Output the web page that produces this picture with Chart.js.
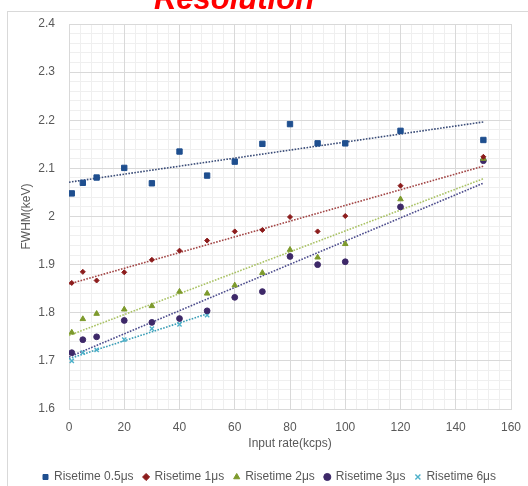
<!DOCTYPE html>
<html>
<head>
<meta charset="utf-8">
<script src="https://cdn.jsdelivr.net/npm/chart.js@4/dist/chart.umd.min.js"></script>
<style>
    html, body { margin: 0; padding: 0; background: #fff; overflow: hidden; }
    #wrap { position: relative; width: 528px; height: 486px; }
    #frame { position: absolute; left: 7px; top: 11px; width: 600px; height: 600px; border: 1px solid #d9d9d9; }
    #chart { position: absolute; left: 0; top: 0; }
</style>
</head>
<body>
<div id="wrap">
    <div id="frame"></div>
    <canvas id="chart" width="528" height="486"></canvas>
</div>
<script>
const xRates = [1, 5, 10, 20, 30, 40, 50, 60, 70, 80, 90, 100, 120, 150];
const xRates6 = [1, 5, 10, 20, 30, 40, 50];

const fwhm05 = [2.048, 2.070, 2.081, 2.101, 2.069, 2.135, 2.085, 2.114, 2.151, 2.192, 2.152, 2.152, 2.178, 2.159];
const fwhm1 = [1.862, 1.885, 1.867, 1.884, 1.910, 1.929, 1.950, 1.969, 1.972, 1.999, 1.969, 2.001, 2.064, 2.124];
const fwhm2 = [1.759, 1.787, 1.798, 1.807, 1.814, 1.844, 1.840, 1.857, 1.883, 1.931, 1.915, 1.943, 2.036, 2.120];
const fwhm3 = [1.717, 1.744, 1.750, 1.784, 1.780, 1.788, 1.804, 1.832, 1.844, 1.917, 1.900, 1.906, 2.020, 2.116];
const fwhm6 = [1.700, 1.717, 1.723, 1.744, 1.767, 1.776, 1.795];

const seriesNames = ['Risetime 0.5μs', 'Risetime 1μs', 'Risetime 2μs', 'Risetime 3μs', 'Risetime 6μs'];
const markerColors = ['#1f4f8f', '#8c1c1c', '#7d9a2c', '#3d2868', '#4cb0c9'];
const trendColors = ['#3b4d78', '#a24545', '#a9c264', '#4b4b8c', '#3a9db6'];
const markerStyles = ['rect', 'rectRot', 'triangle', 'circle', 'crossRot'];
const markerSizes = [3.8, 2.5, 3.2, 2.9, 3];

const xTicks = [0, 20, 40, 60, 80, 100, 120, 140, 160];
const yTicks = [1.6, 1.7, 1.8, 1.9, 2.0, 2.1, 2.2, 2.3, 2.4];

const seriesX = [xRates, xRates, xRates, xRates, xRates6];
const seriesY = [fwhm05, fwhm1, fwhm2, fwhm3, fwhm6];

// least squares fit, drawn from 0 to the last x like the spreadsheet trendline
function trendline(xs, ys) {
    const n = xs.length;
    const mx = xs.reduce((a, b) => a + b, 0) / n;
    const my = ys.reduce((a, b) => a + b, 0) / n;
    let sxy = 0, sxx = 0;
    for (let i = 0; i < n; i++) {
        sxy += (xs[i] - mx) * (ys[i] - my);
        sxx += (xs[i] - mx) * (xs[i] - mx);
    }
    const slope = sxy / sxx;
    const icpt = my - slope * mx;
    const xEnd = xs[n - 1];
    return [{ x: 0, y: icpt }, { x: xEnd, y: icpt + slope * xEnd }];
}

const datasets = [];
seriesNames.forEach((name, i) => {
    datasets.push({
        label: name,
        data: seriesX[i].map((x, j) => ({ x: x, y: seriesY[i][j] })),
        pointStyle: markerStyles[i],
        pointRadius: markerSizes[i],
        pointBackgroundColor: markerColors[i],
        pointBorderColor: markerColors[i],
        pointBorderWidth: markerStyles[i] === 'crossRot' ? 1.4 : 1,
        showLine: false,
        order: 1
    });
});
seriesNames.forEach((name, i) => {
    datasets.push({
        label: 'trend' + i,
        data: trendline(seriesX[i], seriesY[i]),
        showLine: true,
        borderColor: trendColors[i],
        borderWidth: 1.6,
        borderDash: [1.6, 1.4],
        pointRadius: 0,
        fill: false,
        order: 2
    });
});

const titlePlugin = {
    id: 'topTitle',
    afterDraw(chart) {
        const ctx = chart.ctx;
        ctx.save();
        ctx.fillStyle = '#ff0000';
        ctx.font = 'italic bold 31px "Liberation Sans", Arial, sans-serif';
        ctx.textAlign = 'center';
        ctx.textBaseline = 'alphabetic';
        ctx.fillText('Resolution', 234, 9);
        ctx.restore();
    }
};

// nudge the legend box so it sits where the original one does
const legendShift = {
    id: 'legendShift',
    afterLayout(chart) {
        const lg = chart.legend;
        if (!lg) return;
        lg.left += 14; lg.right += 14;
        lg.top -= 5; lg.bottom -= 5;
    }
};

const tickFont = { family: '"Liberation Sans", Arial, sans-serif', size: 12 };
const textColor = '#595959';

new Chart(document.getElementById('chart'), {
    type: 'scatter',
    data: { datasets: datasets },
    plugins: [titlePlugin, legendShift],
    options: {
        responsive: false,
        animation: false,
        layout: { padding: { left: 0, right: 17, top: 24, bottom: -12 } },
        plugins: {
            tooltip: { enabled: false },
            legend: {
                position: 'bottom',
                labels: {
                    usePointStyle: true,
                    boxWidth: 5,
                    boxHeight: 5,
                    padding: 10,
                    color: textColor,
                    font: { family: '"Liberation Sans", Arial, sans-serif', size: 12 },
                    filter: item => !item.text.startsWith('trend')
                }
            }
        },
        scales: {
            xMinor: {
                type: 'linear',
                position: 'bottom',
                min: 0, max: 160,
                display: true,
                ticks: { display: false, stepSize: 4 },
                border: { display: false },
                grid: {
                    drawTicks: false,
                    color: c => (c.tick && c.tick.value % 20 === 0) ? 'rgba(0,0,0,0)' : '#efefef',
                    lineWidth: 1
                },
                afterFit: s => { s.height = 0; }
            },
            yMinor: {
                type: 'linear',
                position: 'left',
                min: 1.6, max: 2.4,
                display: true,
                ticks: { display: false, stepSize: 0.02 },
                border: { display: false },
                grid: {
                    drawTicks: false,
                    color: c => {
                        if (!c.tick) return '#efefef';
                        const r = Math.round(c.tick.value * 100);
                        return r % 10 === 0 ? 'rgba(0,0,0,0)' : '#efefef';
                    },
                    lineWidth: 1
                },
                afterFit: s => { s.width = 0; }
            },
            x: {
                type: 'linear',
                position: 'bottom',
                min: 0, max: 160,
                afterBuildTicks: s => { s.ticks = xTicks.map(v => ({ value: v })); },
                ticks: { color: textColor, font: tickFont, padding: 11 },
                border: { color: '#d9d9d9' },
                grid: { color: '#d9d9d9', drawTicks: false },
                title: {
                    display: true,
                    text: 'Input rate(kcps)',
                    color: textColor,
                    font: tickFont,
                    padding: { top: 4, bottom: 15 }
                },
                afterFit: s => { s.height = 57; s.paddingRight = 0; s.paddingLeft = 0; }
            },
            y: {
                type: 'linear',
                position: 'left',
                min: 1.6, max: 2.4,
                afterBuildTicks: s => { s.ticks = yTicks.map(v => ({ value: v })); },
                ticks: {
                    color: textColor,
                    font: tickFont,
                    padding: 14,
                    callback: v => String(Math.round(v * 10) / 10)
                },
                border: { color: '#d9d9d9' },
                grid: { color: '#d9d9d9', drawTicks: false },
                title: {
                    display: true,
                    text: 'FWHM(keV)',
                    color: textColor,
                    font: tickFont,
                    padding: { top: 19, bottom: 0 }
                },
                afterFit: s => { s.width = 69; s.paddingTop = 0; s.paddingBottom = 0; }
            }
        }
    }
});
</script>
</body>
</html>
